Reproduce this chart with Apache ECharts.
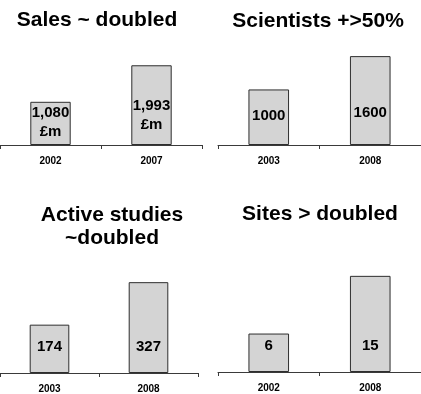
<!DOCTYPE html>
<html>
<head>
<meta charset="utf-8">
<script src="https://cdn.jsdelivr.net/npm/echarts@6/dist/echarts.min.js"></script>
<style>
  html, body { margin: 0; padding: 0; background: #ffffff; }
  #chart { width: 421px; height: 394px; }
</style>
</head>
<body>
<div id="chart"></div>
<script>
// Growth figures, one small bar pair per panel
const salesYears = ['2002', '2007'];
const salesValues = [1080, 1993];          // £m

const scientistYears = ['2003', '2008'];
const scientistValues = [1000, 1600];

const studyYears = ['2003', '2008'];
const studyValues = [174, 327];

const siteYears = ['2002', '2008'];
const siteValues = [6, 15];

const panelTitles = ['Sales ~ doubled', 'Scientists +>50%', 'Active studies\n~doubled', 'Sites > doubled'];

const FONT = "'Liberation Sans', Arial, Helvetica, sans-serif";

function withCommas(v) {
  return String(v).replace(/\B(?=(\d{3})+(?!\d))/g, ',');
}

// Layout of the four panels (grid box, value-axis ceiling, title anchor, label lift above the axis)
const panels = [
  { cats: salesYears, vals: salesValues, title: panelTitles[0],
    grid: { left: -1, top: 45, width: 203, height: 100 }, max: 2500,
    titleX: 97, titleY: 8.5, lift: [4, 11],
    fmt: v => withCommas(v) + '\n£m' },
  { cats: scientistYears, vals: scientistValues, title: panelTitles[1],
    grid: { left: 218, top: 45, width: 203, height: 100 }, max: 1800,
    titleX: 318, titleY: 10, lift: [19.5, 22.5],
    fmt: v => String(v) },
  { cats: studyYears, vals: studyValues, title: panelTitles[2],
    grid: { left: -1, top: 273, width: 199, height: 100 }, max: 360,
    titleX: 112, titleY: 203.5, lift: [16.5, 16.5],
    fmt: v => String(v) },
  { cats: siteYears, vals: siteValues, title: panelTitles[3],
    grid: { left: 218, top: 272, width: 208, height: 100 }, max: 15.6,
    titleX: 320, titleY: 202.5, lift: [16.5, 16.5],
    fmt: v => String(v) }
];

const axisColor = '#3a3a3a';

const option = {
  animation: false,
  backgroundColor: '#ffffff',
  textStyle: { fontFamily: FONT },
  title: panels.map(p => ({
    text: p.title,
    left: p.titleX,
    top: p.titleY,
    textAlign: 'center',
    padding: 0,
    textStyle: { fontFamily: FONT, fontSize: 21, fontWeight: 'bold', color: '#000000', lineHeight: 23 }
  })),
  grid: panels.map(p => Object.assign({ containLabel: false }, p.grid)),
  xAxis: panels.map((p, i) => ({
    type: 'category',
    gridIndex: i,
    data: p.cats,
    boundaryGap: true,
    axisLine: { show: true, lineStyle: { color: axisColor, width: 1 } },
    axisTick: { show: true, length: 4, lineStyle: { color: axisColor, width: 1 } },
    axisLabel: { fontFamily: FONT, fontSize: 10, fontWeight: 'bold', color: '#000000', margin: 11 },
    splitLine: { show: false }
  })),
  yAxis: panels.map((p, i) => ({
    type: 'value',
    gridIndex: i,
    min: 0,
    max: p.max,
    show: false,
    splitLine: { show: false }
  })),
  series: panels.map((p, i) => ({
    type: 'bar',
    xAxisIndex: i,
    yAxisIndex: i,
    barWidth: '40%',
    itemStyle: { color: '#d4d4d4', borderColor: '#2e2e2e', borderWidth: 1 },
    label: {
      show: true,
      position: 'insideBottom',
      fontFamily: FONT,
      fontSize: 15,
      fontWeight: 'bold',
      color: '#000000',
      lineHeight: 19,
      align: 'center',
      formatter: params => p.fmt(params.value)
    },
    data: p.vals.map((v, k) => ({ value: v, label: { distance: p.lift[k] } }))
  }))
};

const chart = echarts.init(document.getElementById('chart'), null, { renderer: 'canvas' });
chart.setOption(option);
</script>
</body>
</html>
